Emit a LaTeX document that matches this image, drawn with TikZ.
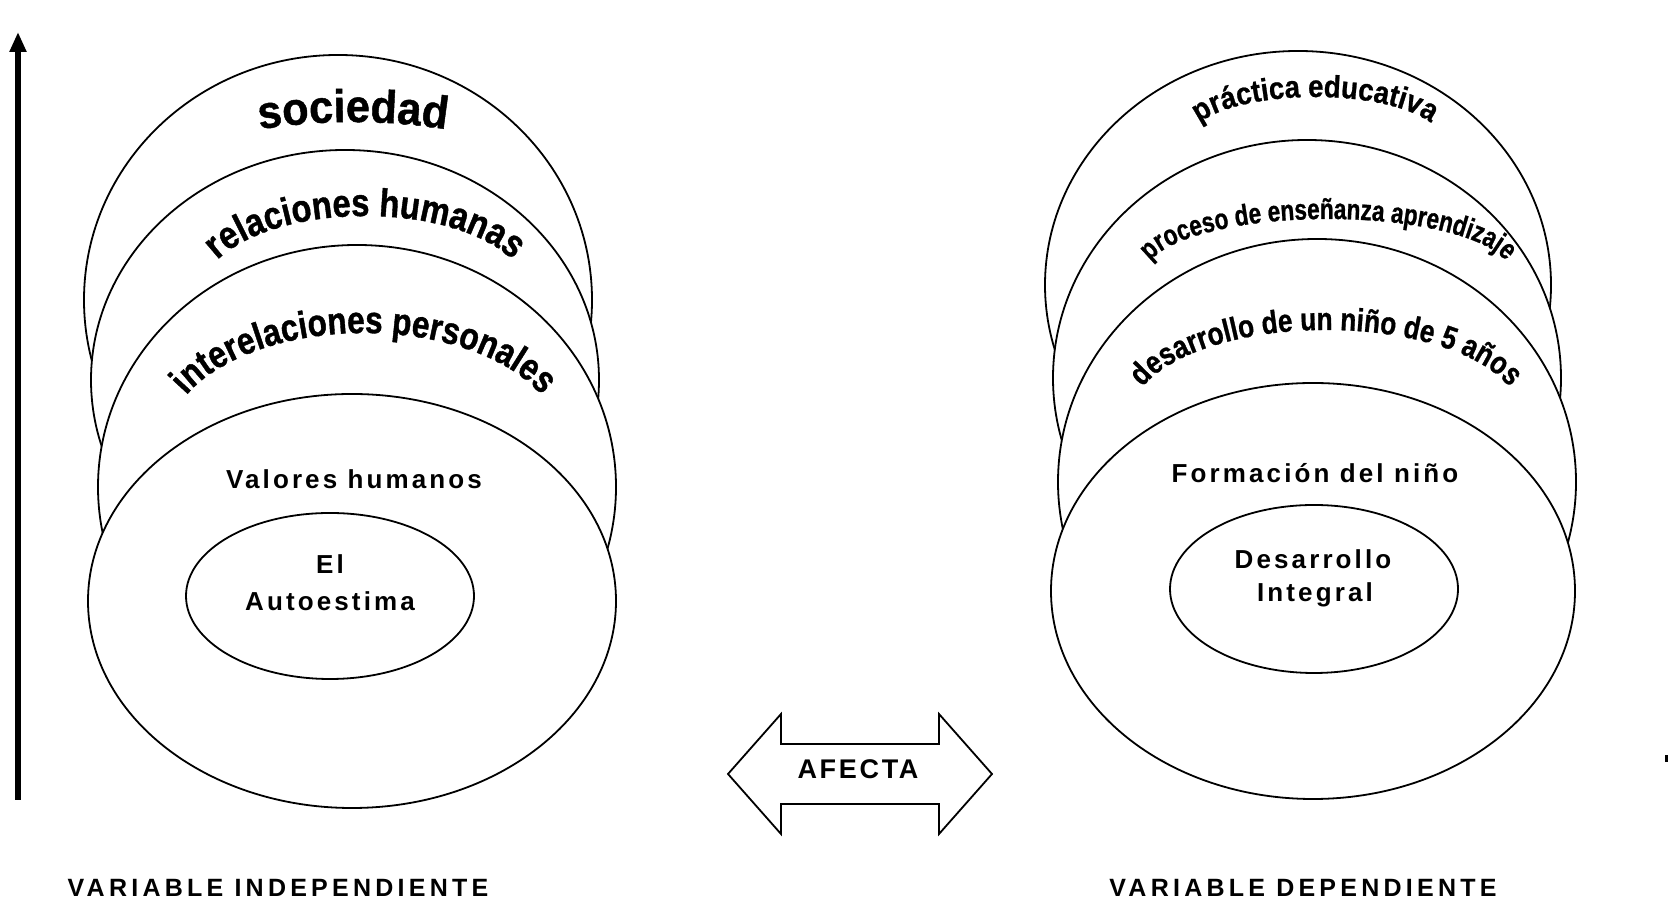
\documentclass[tikz,border=0pt]{standalone}
\usepackage{fontspec}
\setmainfont{Liberation Sans}
\usetikzlibrary{shapes.geometric,decorations.text,arrows.meta}
\newfontfamily\spA{Liberation Sans}[LetterSpace=12]
\newfontfamily\spB{Liberation Sans}[LetterSpace=17]
\newfontfamily\spC{Liberation Sans}[LetterSpace=10]
\newfontfamily\fsS{Liberation Sans}[FakeStretch=0.94, FakeBold=1.0]
\newfontfamily\fsR{Liberation Sans}[FakeStretch=0.84, FakeBold=1.0]
\newfontfamily\fsI{Liberation Sans}[FakeStretch=0.83, FakeBold=1.0]
\newfontfamily\fsP{Liberation Sans}[FakeStretch=0.89, FakeBold=0.8]
\newfontfamily\fsE{Liberation Sans}[FakeStretch=0.78, FakeBold=0.8]
\newfontfamily\fsD{Liberation Sans}[FakeStretch=0.82, FakeBold=0.8]
\newcommand\socfont{\fsS\bfseries\fontsize{46}{46}\selectfont}
\newcommand\relfont{\fsR\bfseries\fontsize{39}{39}\selectfont}
\newcommand\intfont{\fsI\bfseries\fontsize{38}{38}\selectfont}
\newcommand\prafont{\fsP\bfseries\fontsize{31}{31}\selectfont}
\newcommand\profont{\fsE\bfseries\fontsize{29}{29}\selectfont}
\newcommand\desfont{\fsD\bfseries\fontsize{32}{32}\selectfont}
\tikzset{
  ring/.style={ellipse, draw, fill=white, line width=1.8pt, inner sep=0pt, outer sep=0pt},
  lab/.style={font=\spA\bfseries\fontsize{26}{26}\selectfont, inner sep=0pt, anchor=base},
  varlab/.style={font=\spB\bfseries\fontsize{25}{25}\selectfont, inner sep=0pt, anchor=base},
  arctext/.style={decorate, decoration={text along path, text align=center, text={#1}}}
}
\begin{document}
\begin{tikzpicture}[x=1pt,y=1pt]
\useasboundingbox (0,0) rectangle (1668,901);
\fill[white] (0,0) rectangle (1668,901);
% vertical arrow
\coordinate (ab) at (18,101);
\coordinate (at) at (18,869);
\draw[line width=6pt, -{Triangle[length=20pt,width=16pt]}] (ab) -- (at);
% left stack
\node[ring, minimum width=508pt, minimum height=490pt] (L1) at (338,601) {};
\node[ring, minimum width=508pt, minimum height=460pt] (L2) at (345,521) {};
\node[ring, minimum width=518pt, minimum height=484pt] (L3) at (357,414) {};
\node[ring, minimum width=528pt, minimum height=414pt] (L4) at (352,300) {};
\node[ring, minimum width=288pt, minimum height=166pt] (L5) at (330,305) {};
% right stack
\node[ring, minimum width=506pt, minimum height=468pt] (R1) at (1298,616) {};
\node[ring, minimum width=508pt, minimum height=476pt] (R2) at (1307,523) {};
\node[ring, minimum width=518pt, minimum height=486pt] (R3) at (1317,419) {};
\node[ring, minimum width=524pt, minimum height=416pt] (R4) at (1313,310) {};
\node[ring, minimum width=288pt, minimum height=168pt] (R5) at (1314,312) {};
% curved texts left
\path[arctext={|\socfont|sociedad}] ([shift={(105:600)}]353,179) arc[start angle=105, end angle=75, radius=600];
\path[arctext={|\relfont|relaciones humanas}] ([shift={(180:164 and 78)}]365,607) arc[start angle=180, end angle=0, x radius=164, y radius=78];
\path[arctext={|\intfont|interelaciones personales}] ([shift={(180:196 and 108)}]364,460) arc[start angle=180, end angle=0, x radius=196, y radius=108];
% curved texts right
\path[arctext={|\prafont|práctica educativa}] ([shift={(180:126 and 43)}]1315,761) arc[start angle=180, end angle=0, x radius=126, y radius=43];
\path[arctext={|\profont|proceso de enseñanza aprendizaje}] ([shift={(180:182 and 54)}]1328,628) arc[start angle=180, end angle=0, x radius=182, y radius=54];
\path[arctext={|\desfont|desarrollo de un niño de 5 años}] ([shift={(180:194 and 85)}]1326,486) arc[start angle=180, end angle=0, x radius=194, y radius=85];
% straight labels
\node[lab] (vh) at (354,412) {Valores humanos};
\node[lab] (el) at (330,327) {El};
\node[lab] (au) at (330,290) {Autoestima};
\node[lab] (fn) at (1315,418) {Formación del niño};
\node[lab] (de) at (1313,332) {Desarrollo};
\node[lab] (ig) at (1315,299) {Integral};
% double arrow
\draw[line width=1.8pt, line join=miter, fill=white]
  (728,127) -- (781,187) -- (781,157) -- (939,157) -- (939,187) -- (992,127)
  -- (939,67) -- (939,97) -- (781,97) -- (781,67) -- cycle;
\node[font=\spC\bfseries\fontsize{27}{27}\selectfont, inner sep=0pt, anchor=base] (af) at (858,122) {AFECTA};
% bottom labels
\node[varlab] (vi) at (278,4) {VARIABLE INDEPENDIENTE};
\node[varlab] (vd) at (1303,4) {VARIABLE DEPENDIENTE};
% edge mark
\fill (1665,139) rectangle (1668,146);
\end{tikzpicture}
\end{document}
